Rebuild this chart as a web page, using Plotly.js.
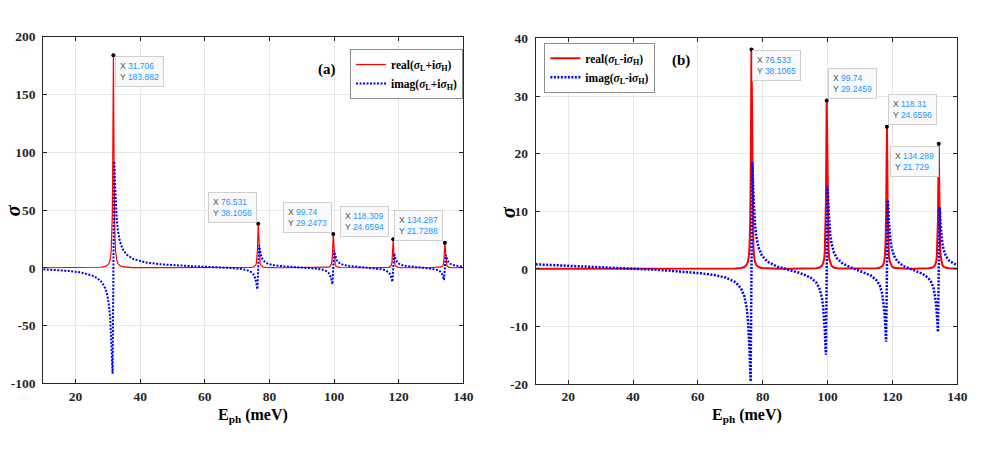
<!DOCTYPE html>
<html>
<head>
<meta charset="utf-8">
<script src="https://cdn.plot.ly/plotly-3.0.1.min.js"></script>
<style>
  body { margin: 0; background: #ffffff; }
  #chart { width: 981px; height: 456px; }
</style>
</head>
<body>
<div id="chart"></div>
<script>
// photon energy grid (meV), dense around each resonance
var E = [10, 14, 18, 21.71, 25.71, 27.71, 28.91, 29.71, 30.31, 30.71, 31.01, 31.21, 31.36, 31.46, 31.706, 31.96, 32.06, 32.21, 32.41, 32.71,
  33.11, 33.71, 34.51, 35.71, 37.71, 41.71, 46, 51, 56, 61, 65, 68.5,
  71.53, 73.33, 74.33, 75.03, 75.43, 75.73, 75.93, 76.13, 76.28, 76.53, 76.78, 76.93, 77.13, 77.33, 77.63, 78.03, 78.73, 79.73, 81.53, 84.5, 88, 91.5,
  94.74, 96.54, 97.54, 98.24, 98.64, 98.94, 99.14, 99.34, 99.49, 99.74, 99.99, 100.14, 100.34, 100.54, 100.84, 101.24, 101.94, 102.94, 104.74, 108, 111,
  113.31, 115.11, 116.11, 116.81, 117.21, 117.51, 117.71, 117.91, 118.06, 118.31, 118.56, 118.71, 118.91, 119.11, 119.41, 119.81, 120.51, 121.51, 123.31, 126,
  129.29, 131.09, 132.09, 132.79, 133.19, 133.49, 133.69, 133.89, 134.04, 134.29, 134.54, 134.69, 134.89, 135.09, 135.39, 135.79, 136.49, 137.49, 139.29, 140];

// panel (a): sigma_L + i sigma_H
var realA = [0.02, 0.02, 0.04, 0.07, 0.20, 0.46, 0.93, 1.82, 3.68, 7.07, 13.88, 25.36, 45.27, 71.75, 183.882, 71.75, 45.27, 25.36, 13.88, 7.07,
  3.68, 1.82, 0.93, 0.46, 0.20, 0.07, 0.04, 0.02, 0.02, 0.02, 0.02, 0.03,
  0.07, 0.15, 0.31, 0.67, 1.22, 2.24, 3.81, 7.62, 14.87, 38.1056, 14.87, 7.62, 3.81, 2.24, 1.22, 0.67, 0.31, 0.15, 0.07, 0.03, 0.02, 0.03,
  0.05, 0.12, 0.24, 0.51, 0.94, 1.72, 2.93, 5.85, 11.41, 29.2473, 11.41, 5.85, 2.93, 1.72, 0.94, 0.51, 0.24, 0.12, 0.05, 0.03, 0.03,
  0.05, 0.10, 0.20, 0.43, 0.79, 1.45, 2.47, 4.93, 9.62, 24.6594, 9.62, 4.93, 2.47, 1.45, 0.79, 0.43, 0.20, 0.10, 0.05, 0.03,
  0.04, 0.09, 0.18, 0.38, 0.70, 1.28, 2.18, 4.35, 8.48, 21.7288, 8.48, 4.35, 2.18, 1.28, 0.70, 0.38, 0.18, 0.09, 0.04, 0.03];
var imagA = [-1.34, -1.91, -2.76, -4.08, -7.23, -11.08, -15.95, -22.32, -31.50, -42.98, -57.94, -73.27, -86.70, -91.66, 0.27, 92.21, 87.24, 73.81, 58.49, 43.52,
  32.05, 22.86, 16.50, 11.62, 7.76, 4.59, 3.08, 2.08, 1.38, 0.79, 0.31, -0.25,
  -1.13, -2.30, -3.66, -5.60, -7.68, -10.31, -13.00, -16.61, -18.55, 0.51, 19.55, 17.61, 14.01, 11.31, 8.68, 6.61, 4.67, 3.29, 2.14, 1.25, 0.62, 0.04,
  -0.77, -1.69, -2.77, -4.28, -5.88, -7.90, -9.97, -12.74, -14.25, 0.38, 14.99, 13.49, 10.72, 8.65, 6.63, 5.03, 3.51, 2.44, 1.50, 0.65, 0.04,
  -0.56, -1.43, -2.37, -3.67, -5.05, -6.77, -8.52, -10.87, -12.13, 0.18, 12.49, 11.23, 8.88, 7.14, 5.42, 4.05, 2.77, 1.84, 1.01, 0.40,
  -0.40, -1.13, -1.95, -3.08, -4.29, -5.80, -7.34, -9.41, -10.52, 0.33, 11.19, 10.08, 8.02, 6.48, 4.97, 3.77, 2.65, 1.85, 1.15, 0.99];

// panel (b): sigma_L - i sigma_H
var realB = [0, 0, 0, 0, 0, 0, 0, 0, 0, 0, 0, 0, 0, 0, 0, 0, 0, 0, 0, 0,
  0, 0, 0, 0, 0, 0, 0, 0, 0, 0.01, 0.01, 0.02,
  0.06, 0.15, 0.31, 0.67, 1.22, 2.24, 3.81, 7.62, 14.87, 38.1065, 14.87, 7.62, 3.81, 2.24, 1.22, 0.67, 0.31, 0.15, 0.07, 0.03, 0.02, 0.02,
  0.05, 0.12, 0.24, 0.51, 0.94, 1.72, 2.93, 5.85, 11.41, 29.2459, 11.41, 5.85, 2.93, 1.72, 0.94, 0.51, 0.24, 0.12, 0.05, 0.03, 0.03,
  0.05, 0.10, 0.20, 0.43, 0.79, 1.45, 2.47, 4.93, 9.62, 24.6596, 9.62, 4.93, 2.47, 1.45, 0.79, 0.43, 0.20, 0.10, 0.05, 0.03,
  0.04, 0.09, 0.18, 0.38, 0.70, 1.28, 2.18, 4.35, 8.48, 21.729, 8.48, 4.35, 2.18, 1.28, 0.70, 0.38, 0.18, 0.09, 0.04, 0.03];
var imagB = [0.78, 0.69, 0.60, 0.51, 0.42, 0.37, 0.34, 0.32, 0.31, 0.30, 0.29, 0.28, 0.28, 0.28, 0.27, 0.27, 0.26, 0.26, 0.26, 0.25,
  0.24, 0.22, 0.21, 0.17, 0.11, 0.00, -0.13, -0.31, -0.51, -0.78, -1.07, -1.50,
  -2.29, -3.41, -4.74, -6.67, -8.73, -11.36, -14.04, -17.64, -19.58, -0.51, 18.53, 16.59, 12.99, 10.31, 7.68, 5.62, 3.69, 2.33, 1.21, 0.38, -0.19, -0.73,
  -1.50, -2.40, -3.47, -4.97, -6.56, -8.59, -10.65, -13.42, -14.92, -0.30, 14.32, 12.82, 10.05, 7.98, 5.97, 4.36, 2.86, 1.79, 0.87, 0.05, -0.54,
  -1.13, -1.98, -2.92, -4.21, -5.59, -7.31, -9.06, -11.40, -12.66, -0.36, 11.96, 10.70, 8.36, 6.61, 4.90, 3.53, 2.25, 1.33, 0.50, -0.09,
  -0.87, -1.59, -2.41, -3.54, -4.74, -6.25, -7.79, -9.86, -10.97, -0.12, 10.74, 9.63, 7.57, 6.03, 4.53, 3.33, 2.21, 1.42, 0.73, 0.57];

// data tips
var tipXA = ['31.706', '76.531', '99.74', '118.309', '134.287'];
var tipYA = ['183.882', '38.1056', '29.2473', '24.6594', '21.7288'];
var tipXB = ['76.533', '99.74', '118.31', '134.289'];
var tipYB = ['38.1065', '29.2459', '24.6596', '21.729'];

// ticks
var xTicks = [20, 40, 60, 80, 100, 120, 140];
var yTicksA = [-100, -50, 0, 50, 100, 150, 200];
var yTicksB = [-20, -10, 0, 10, 20, 30, 40];

var serif = 'Liberation Serif';
var tickFont = {family: serif, size: 13.5, weight: 'bold', color: '#262626'};

function xAxis(domain, anchor) {
  return {
    domain: domain, anchor: anchor, range: [10, 140],
    tickvals: xTicks, ticktext: xTicks.map(String),
    ticks: 'inside', ticklen: 4, tickcolor: '#262626', ticklabelstandoff: 0,
    showline: true, mirror: 'allticks', linecolor: '#262626', linewidth: 1,
    showgrid: true, gridcolor: '#e6e6e6', zeroline: false,
    tickfont: tickFont
  };
}
function yAxis(domain, anchor, range, ticks) {
  return {
    domain: domain, anchor: anchor, range: range,
    tickvals: ticks, ticktext: ticks.map(String),
    ticks: 'inside', ticklen: 4, tickcolor: '#262626', ticklabelstandoff: 4,
    showline: true, mirror: 'allticks', linecolor: '#262626', linewidth: 1,
    showgrid: true, gridcolor: '#e6e6e6', zeroline: false,
    tickfont: tickFont
  };
}

var traces = [
  {x: E, y: realA, xaxis: 'x', yaxis: 'y', type: 'scatter', mode: 'lines', legend: 'legend',
   name: 'real(<i>σ</i><sub>L</sub>+i<i>σ</i><sub>H</sub>)', line: {color: '#ff0000', width: 1.2}},
  {x: E, y: imagA, xaxis: 'x', yaxis: 'y', type: 'scatter', mode: 'lines', legend: 'legend',
   name: 'imag(<i>σ</i><sub>L</sub>+i<i>σ</i><sub>H</sub>)', line: {color: '#0000ff', width: 2, dash: '2px,1.5px'}},
  {x: tipXA.map(Number), y: tipYA.map(Number), xaxis: 'x', yaxis: 'y', type: 'scatter', mode: 'markers',
   showlegend: false, marker: {color: '#000', size: 4}},
  {x: E, y: realB, xaxis: 'x2', yaxis: 'y2', type: 'scatter', mode: 'lines', legend: 'legend2',
   name: 'real(<i>σ</i><sub>L</sub>-i<i>σ</i><sub>H</sub>)', line: {color: '#ff0000', width: 2}},
  {x: E, y: imagB, xaxis: 'x2', yaxis: 'y2', type: 'scatter', mode: 'lines', legend: 'legend2',
   name: 'imag(<i>σ</i><sub>L</sub>-i<i>σ</i><sub>H</sub>)', line: {color: '#0000ff', width: 2.5, dash: '2px,1.5px'}},
  {x: tipXB.map(Number), y: tipYB.map(Number), xaxis: 'x2', yaxis: 'y2', type: 'scatter', mode: 'markers',
   showlegend: false, marker: {color: '#000', size: 4}}
];

// data tip boxes: where each box sits relative to its point
var placeA = [['left', 'top', 2, -1], ['right', 'bottom', -1, 1], ['right', 'bottom', -1, 1], ['right', 'bottom', -4, 2], ['right', 'bottom', -2, 2]];
var placeB = [['left', 'top', 1, -1], ['left', 'bottom', 1, 1], ['left', 'bottom', 1, 2], ['right', 'top', 0, -2]];

function tip(xv, yv, xr, yr, p) {
  var blue = '<span style="color:#1a98ff">';
  return {
    x: Number(xv), y: Number(yv), xref: xr, yref: yr, showarrow: false,
    text: 'X ' + blue + xv + '</span><br>Y ' + blue + yv + '</span>',
    align: 'left', xanchor: p[0], yanchor: p[1], xshift: p[2], yshift: p[3],
    font: {family: 'Liberation Sans', size: 8.5, color: '#505050'},
    bgcolor: '#f9f9fb', bordercolor: '#cfcfcf', borderwidth: 1, borderpad: 4
  };
}

function label(text, x, y, size, angle, italic) {
  return {text: text, x: x, y: y, xref: 'paper', yref: 'paper', showarrow: false,
    xanchor: 'center', yanchor: 'middle', textangle: angle || 0,
    font: {family: serif, size: size, weight: 'bold', style: italic ? 'italic' : 'normal', color: '#000'}};
}

var annotations = [];
tipXA.forEach(function (v, i) { annotations.push(tip(v, tipYA[i], 'x', 'y', placeA[i])); });
tipXB.forEach(function (v, i) { annotations.push(tip(v, tipYB[i], 'x2', 'y2', placeB[i])); });
annotations.push(label('(a)', 0.333, 0.848, 15));
annotations.push(label('(b)', 0.694, 0.868, 15));
// axis titles
annotations.push(label('E<sub>ph</sub> (meV)', 0.2582, 0.088, 16));
annotations.push(label('E<sub>ph</sub> (meV)', 0.761, 0.088, 16));
annotations.push(label('σ', 0.0133, 0.539, 20, -90, true));
annotations.push(label('σ', 0.5178, 0.535, 20, -90, true));

var legendStyle = function (x, y) {
  return {x: x, y: y, xanchor: 'left', yanchor: 'top', bgcolor: '#ffffff', bordercolor: '#8c8c8c', borderwidth: 1,
    font: {family: serif, size: 11.5, weight: 'bold', color: '#000'}, tracegroupgap: 0, itemwidth: 30};
};

var layout = {
  width: 981, height: 456,
  margin: {t: 0, b: 0, l: 0, r: 0},
  paper_bgcolor: '#ffffff', plot_bgcolor: '#ffffff',
  xaxis: xAxis([0.0441, 0.4723], 'y'),
  yaxis: yAxis([0.1594, 0.9195], 'x', [-100, 200], yTicksA),
  xaxis2: xAxis([0.5461, 0.9758], 'y2'),
  yaxis2: yAxis([0.1579, 0.9156], 'x2', [-20, 40], yTicksB),
  legend: legendStyle(0.3568, 0.8925),
  legend2: legendStyle(0.5549, 0.9064),
  annotations: annotations,
  showlegend: true
};

Plotly.newPlot('chart', traces, layout, {displayModeBar: false, staticPlot: true});
</script>
</body>
</html>
